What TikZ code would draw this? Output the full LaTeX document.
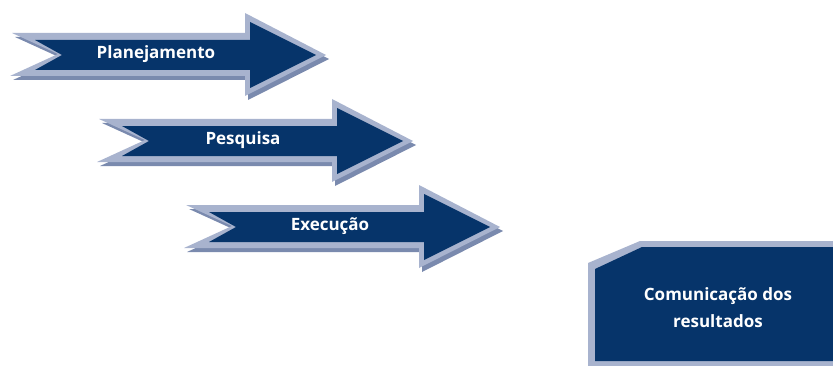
\documentclass[tikz,border=0pt]{standalone}
\usepackage{fontspec}
\setmainfont{Open Sans}
\definecolor{stagedark}{HTML}{06346A}
\definecolor{stagelight}{HTML}{A8B3CE}
\definecolor{stageshadow}{HTML}{7A8AAE}
\tikzset{
  stagelabel/.style={text=white, font=\bfseries\fontsize{14.5}{23}\selectfont, align=center},
  stage arrow/.pic={
    \fill[stageshadow] (5,4) -- (238,4) -- (238,-16) -- (319,26) -- (238,67) -- (238,47) -- (3,47) -- (51,25) -- cycle;
    \fill[stagelight] (2,0) -- (235,0) -- (235,-20) -- (316,22) -- (235,63) -- (235,43) -- (0,43) -- (48,21) -- cycle;
    \fill[stagedark] (25,7) -- (240,7) -- (240,-11) -- (306,22) -- (240,55) -- (240,37) -- (25,37) -- (52,22) -- cycle;
  }
}
\begin{document}
\begin{tikzpicture}[x=0.03cm, y=-0.03cm]
  \useasboundingbox (0,0) rectangle (833,366);

  % stages
  \pic at (10,33) {stage arrow};
  \node[stagelabel] (plan) at (156,54) {Planejamento};

  \pic at (97,119) {stage arrow};
  \node[stagelabel] (pesq) at (243,140) {Pesquisa};

  \pic at (184,205) {stage arrow};
  \node[stagelabel] (exec) at (330,226) {Execução};

  % result box
  \fill[stagelight] (640,241) -- (833,241) -- (833,366) -- (588,366) -- (588,263) -- cycle;
  \fill[stagedark] (642,247) -- (833,247) -- (833,361) -- (595,361) -- (595,269) -- cycle;
  \node[stagelabel] (comm) at (718,308) {Comunicação dos\\resultados};
\end{tikzpicture}
\end{document}
